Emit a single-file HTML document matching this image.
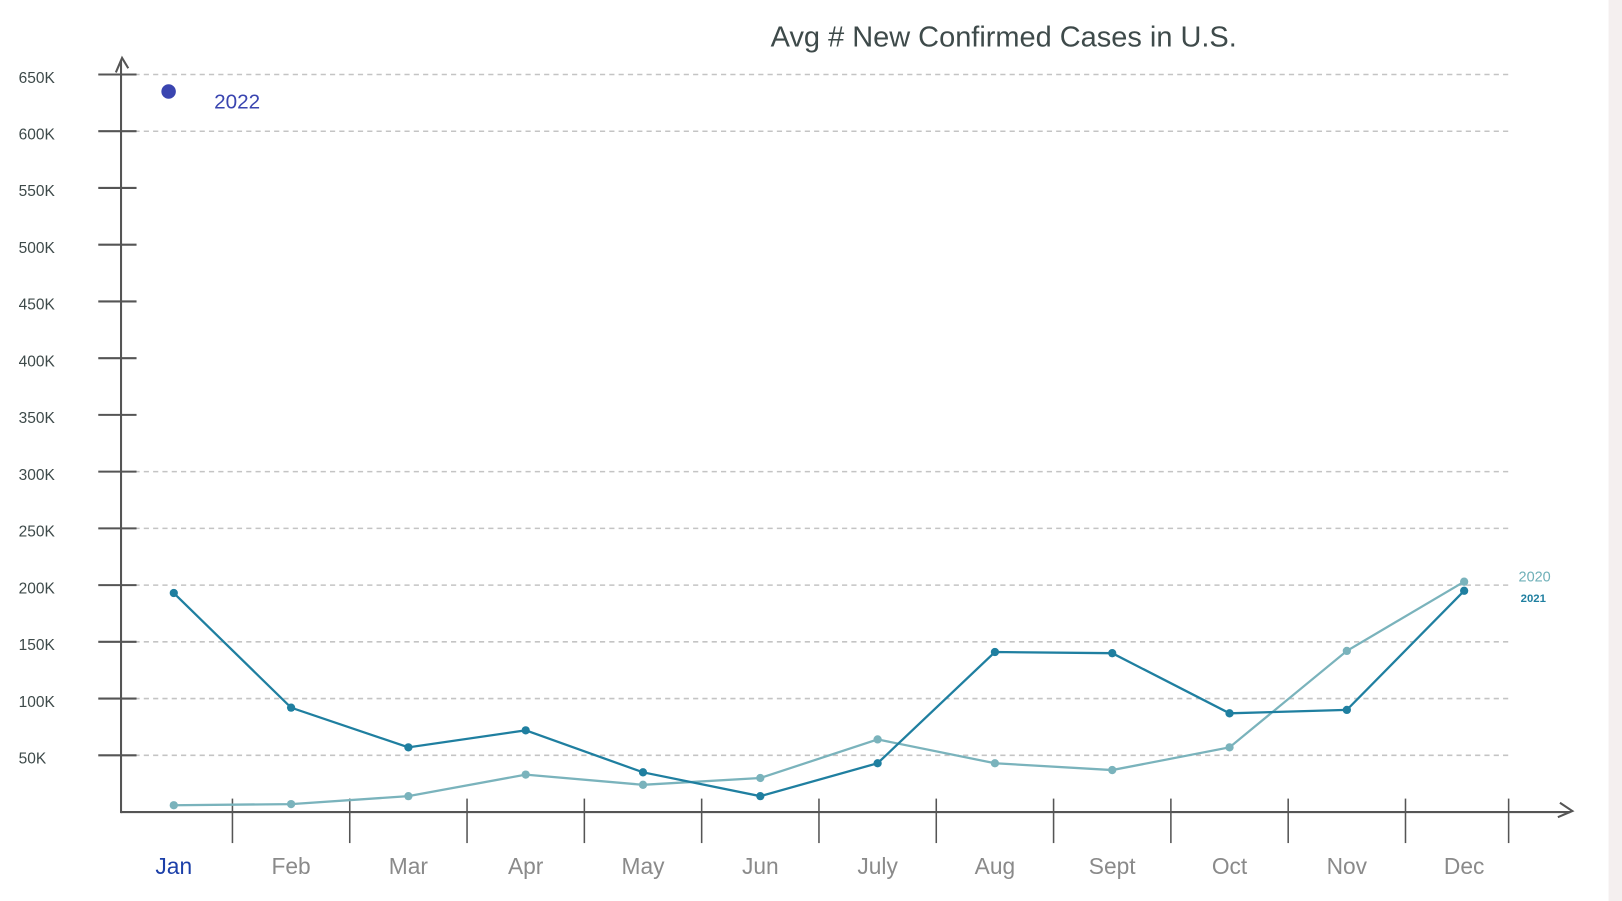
<!DOCTYPE html>
<html><head><meta charset="utf-8"><style>
body{margin:0;background:#fff;overflow:hidden;}
svg{display:block;font-family:"Liberation Sans",sans-serif;}
</style></head><body>
<svg id="chart" width="1622" height="901" viewBox="0 0 1568 871" preserveAspectRatio="none">
<rect x="1555" y="0" width="67" height="901" fill="#f4efef"/>
<text x="745" y="45" font-size="28" fill="#3e4a4a">Avg  #  New   Confirmed   Cases  in U.S.</text>
<g id="grid"></g><g id="axes"></g><g id="series"></g>
<text x="207" y="105" font-size="20" fill="#3a45b0">2022</text>
<text x="1468" y="562" font-size="14" fill="#6fb0b8">2020</text>
<text x="1470" y="582" font-size="11" font-weight="bold" fill="#1f7fa0">2021</text>
</svg>
<script>
const months=["Jan","Feb","Mar","Apr","May","Jun","July","Aug","Sept","Oct","Nov","Dec"];
const s2021=[193000,92000,57000,72000,35000,14000,43000,141000,140000,87000,90000,195000];
const s2020=[6000,7000,14000,33000,24000,30000,64000,43000,37000,57000,142000,203000];
const s2022=[635000];
const yTicks=[50000,100000,150000,200000,250000,300000,350000,400000,450000,500000,550000,600000,650000];
const yLabels=["50K","100K","150K","200K","250K","300K","350K","400K","450K","500K","550K","600K","650K"];
const gridVals=[50000,100000,150000,200000,250000,300000,600000,650000];
const NS="http://www.w3.org/2000/svg";
const y=v=>785-v*(713/650000);
const x=i=>168+i*113.4;
function mk(t,a,p){const e=document.createElementNS(NS,t);for(const k in a)e.setAttribute(k,a[k]);p.appendChild(e);return e;}
const g=document.getElementById('grid'),ax=document.getElementById('axes'),se=document.getElementById('series');
gridVals.forEach(v=>{const l=mk('line',{x1:130,x2:1460,y1:y(v),y2:y(v),stroke:'#c4c4c4','stroke-width':1.5,'stroke-dasharray':'5,4'},g);

});
const ya=mk('line',{x1:117,x2:117,y1:58,y2:786,stroke:'#555','stroke-width':2},ax);


mk('path',{d:'M112,70 L118,56 L124,66',fill:'none',stroke:'#555','stroke-width':2},ax);
const xa=mk('line',{x1:117,x2:1518,y1:785,y2:785,stroke:'#555','stroke-width':2},ax);


mk('path',{d:'M1508,776 L1520,784 L1506,790',fill:'none',stroke:'#555','stroke-width':2},ax);
yTicks.forEach((v,i)=>{mk('line',{x1:95,x2:132,y1:y(v),y2:y(v),stroke:'#555','stroke-width':2},ax);
const t=mk('text',{x:18,y:y(v)+8,'font-size':15,fill:'#3e4a4a'},ax);t.textContent=yLabels[i];

});
months.forEach((m,i)=>{if(i>0)mk('line',{x1:x(i)-56.7,x2:x(i)-56.7,y1:772,y2:815,stroke:'#555','stroke-width':1.5},ax);
const t=mk('text',{x:x(i),y:845,'font-size':22,'text-anchor':'middle',fill:i==0?'#1b3fa8':'#8a8a8a'},ax);t.textContent=m;

});
mk('line',{x1:x(11)+43,x2:x(11)+43,y1:772,y2:815,stroke:'#555','stroke-width':1.5},ax);
function line(data,color,name){const p=mk('polyline',{points:data.map((v,i)=>x(i)+','+y(v)).join(' '),fill:'none',stroke:color,'stroke-width':2.2},se);


data.forEach((v,i)=>{const c=mk('circle',{cx:x(i),cy:y(v),r:4,fill:color},se);

});}
line(s2020,'#7ab3bc','series-2020');
line(s2021,'#1f7fa0','series-2021');
s2022.forEach((v,i)=>{const c=mk('circle',{cx:x(i)-5,cy:y(v),r:7,fill:'#3a45b0'},se);

});
</script>
</body></html>
